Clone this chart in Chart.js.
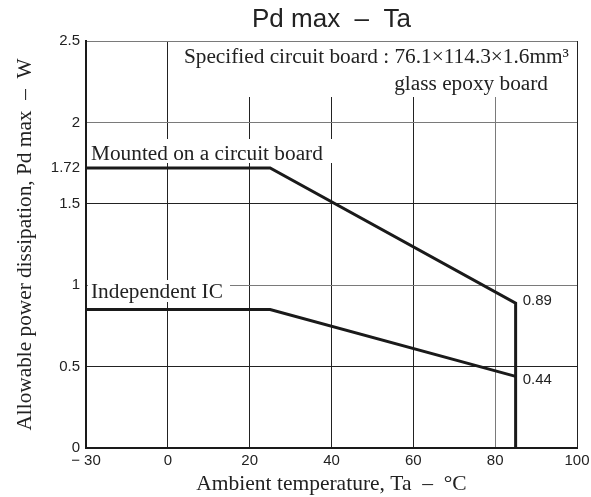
<!DOCTYPE html>
<html>
<head>
<meta charset="utf-8">
<script src="https://cdn.jsdelivr.net/npm/chart.js@4.4.1/dist/chart.umd.min.js"></script>
<style>
  html, body { margin: 0; padding: 0; background: #fff; }
  #wrap { width: 591px; height: 497px; }
</style>
</head>
<body>
<div id="wrap"><canvas id="chartCanvas" width="591" height="497"></canvas></div>
<script>
// Pd max - Ta derating curve

const xTicks = [-30, 0, 20, 40, 60, 80, 100];
const yTicks = [0, 0.5, 1, 1.5, 1.72, 2, 2.5];

// Mounted on a circuit board
const tempMounted = [-30, 25, 85, 85];
const pdMounted = [1.72, 1.72, 0.89, 0];

// Independent IC
const tempIC = [-30, 25, 85];
const pdIC = [0.85, 0.85, 0.44];

const serif = '"Liberation Serif", "Times New Roman", serif';
const sans = '"Liberation Sans", Arial, sans-serif';

// the datasheet draws -30..0 with the same width as one 20 degree step
function toAxis(t) {
    return t < 0 ? t * 20 / 30 : t;
}

function pontos(temps, vals) {
    return temps.map((t, i) => ({ x: toAxis(t), y: vals[i] }));
}

// texts in the plot, with a white box behind so the grid stops there
const anotacoes = {
    id: 'anotacoes',
    beforeDatasetsDraw(chart) {
        const ctx = chart.ctx;
        ctx.save();
        ctx.fillStyle = '#fff';
        ctx.fillRect(183, 42, 390, 55);
        ctx.fillRect(88, 139, 244, 24);
        ctx.fillRect(88, 280, 142, 22);

        ctx.fillStyle = '#222';
        ctx.font = '21.3px ' + serif;
        ctx.textBaseline = 'alphabetic';
        ctx.textAlign = 'right';
        ctx.fillText('Specified circuit board : 76.1×114.3×1.6mm³', 569, 63);
        ctx.fillText('glass epoxy board', 548, 90);
        ctx.textAlign = 'left';
        ctx.fillText('Mounted on a circuit board', 91, 160);
        ctx.fillText('Independent IC', 91, 298);
        ctx.restore();
    },
    afterDatasetsDraw(chart) {
        const ctx = chart.ctx;
        const x = chart.scales.x;
        const y = chart.scales.y;
        ctx.save();
        ctx.fillStyle = '#222';
        ctx.font = '15px ' + sans;
        ctx.textAlign = 'left';
        ctx.textBaseline = 'middle';
        const ultimoM = pdMounted[2];
        const ultimoIC = pdIC[2];
        ctx.fillText(String(ultimoM), x.getPixelForValue(toAxis(tempMounted[2])) + 7, y.getPixelForValue(ultimoM) - 2);
        ctx.fillText(String(ultimoIC), x.getPixelForValue(toAxis(tempIC[2])) + 7, y.getPixelForValue(ultimoIC) + 3);

        // title, centred on the plot
        ctx.font = '26px ' + sans;
        ctx.textAlign = 'center';
        ctx.fillText('Pd max  –  Ta', (chart.chartArea.left + chart.chartArea.right) / 2, 20);
        ctx.restore();
    }
};

function corGrade(v, cinza) {
    if (v === 1.72) return 'rgba(0,0,0,0)';
    if (cinza.includes(v)) return '#7a7a7a';
    return '#222';
}

const ctx = document.getElementById('chartCanvas');
new Chart(ctx, {
    type: 'line',
    data: {
        datasets: [{
            label: 'Mounted on a circuit board',
            data: pontos(tempMounted, pdMounted),
            borderColor: '#1a1a1a',
            borderWidth: 3,
            pointRadius: 0,
            borderJoinStyle: 'miter',
            fill: false
        }, {
            label: 'Independent IC',
            data: pontos(tempIC, pdIC),
            borderColor: '#1a1a1a',
            borderWidth: 3,
            pointRadius: 0,
            borderJoinStyle: 'miter',
            fill: false
        }]
    },
    options: {
        responsive: false,
        animation: false,
        layout: {
            padding: { top: 41, right: 14, left: 0, bottom: 0 }
        },
        scales: {
            x: {
                type: 'linear',
                min: toAxis(xTicks[0]),
                max: xTicks[xTicks.length - 1],
                afterBuildTicks: function (scale) {
                    scale.ticks = xTicks.map(t => ({ value: toAxis(t) }));
                },
                afterFit: function (scale) {
                    scale.height = 49;
                    scale.paddingLeft = 0;
                    scale.paddingRight = 0;
                },
                ticks: {
                    autoSkip: false,
                    maxRotation: 0,
                    padding: 4,
                    color: '#222',
                    font: { family: sans, size: 15 },
                    callback: function (value, index) {
                        const t = xTicks[index];
                        return t < 0 ? '− ' + Math.abs(t) : String(t);
                    }
                },
                grid: {
                    drawTicks: false,
                    lineWidth: 1,
                    color: c => corGrade(c.tick ? xTicks[c.index] : null, [80])
                },
                border: { display: true, color: '#1a1a1a', width: 2 },
                title: {
                    display: true,
                    text: 'Ambient temperature, Ta  –  °C',
                    color: '#222',
                    font: { family: serif, size: 21.5 },
                    padding: { top: 0, bottom: 0 }
                }
            },
            y: {
                min: 0,
                max: 2.5,
                afterBuildTicks: function (scale) {
                    scale.ticks = yTicks.map(v => ({ value: v }));
                },
                afterFit: function (scale) {
                    scale.width = 86;
                    scale.paddingTop = 0;
                    scale.paddingBottom = 0;
                },
                ticks: {
                    autoSkip: false,
                    padding: 6,
                    color: '#222',
                    font: { family: sans, size: 15 },
                    callback: value => String(value)
                },
                grid: {
                    drawTicks: false,
                    lineWidth: 1,
                    color: c => corGrade(c.tick ? c.tick.value : null, [1, 2, 2.5])
                },
                border: { display: true, color: '#1a1a1a', width: 2 },
                title: {
                    display: true,
                    text: 'Allowable power dissipation, Pd max  –  W',
                    color: '#222',
                    font: { family: serif, size: 21.3 },
                    padding: { top: 13, bottom: 0 }
                }
            }
        },
        plugins: {
            legend: { display: false },
            tooltip: { enabled: false }
        }
    },
    plugins: [anotacoes]
});
</script>
</body>
</html>
